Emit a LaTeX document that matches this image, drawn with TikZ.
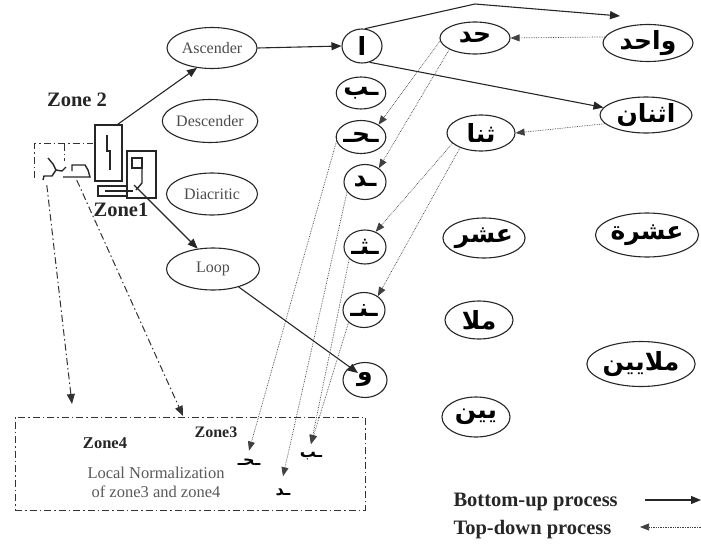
\documentclass[tikz,border=0pt]{standalone}
\usepackage{fontspec}
\setmainfont{Liberation Serif}
\newfontfamily\arab[Script=Arabic]{DejaVu Sans}
\TeXXeTstate=1
\usetikzlibrary{shapes.geometric,arrows.meta}
\newcommand{\arw}[1]{\raisebox{-4pt}{\beginR #1\endR}}

\tikzset{
  part/.style={ellipse,draw=black!85,line width=1.1pt,inner sep=0pt,text=black!70,font=\fontsize{16}{16}\selectfont},
  glyph/.style={ellipse,draw=black!85,line width=1.1pt,inner sep=0pt,font=\arab\bfseries\fontsize{25}{25}\selectfont},
  bglyph/.style={inner sep=0pt,font=\arab\bfseries\fontsize{16}{16}\selectfont},
  bup/.style={-{Triangle[length=10pt,width=8pt]},line width=1.1pt,black!85},
  tdown/.style={-{Triangle[length=9pt,width=7pt]},densely dotted,line width=0.7pt,black!75},
  zdash/.style={line width=1pt,dash pattern=on 7pt off 3pt on 1.5pt off 3pt,black!80},
  pix/.style={line width=1.4pt,black!85},
  zlab/.style={font=\bfseries\fontsize{20.5}{20.5}\selectfont,text=black!85}
}

\begin{document}
\begin{tikzpicture}[x=1pt,y=-1pt]
    \useasboundingbox (0,0) rectangle (701,546);
    % the word image, cut in zones
    \node[draw,pix,minimum width=27pt,minimum height=56pt,inner sep=0pt] (zasc) at (108.5,153) {};
    \node[draw,pix,minimum width=29pt,minimum height=47pt,inner sep=0pt] (zloop) at (141.5,174.5) {};
    \node[minimum width=58pt,minimum height=34pt,inner sep=0pt] (z2box) at (64,161) {};
    \draw[pix] (107,135) -- (107,151) -- (110,151) -- (110,170);
    \draw[pix] (127,186) -- (98,186) -- (98,196) -- (127,196);
    \draw[pix] (105,191) -- (133,191);
    \draw[pix] (132,158) rectangle (142,168);
    \draw[pix] (142,168) -- (142,183) -- (136,190);
    \draw[pix] (48,158) -- (53,164) -- (56,170);
    \draw[pix] (43,180) -- (44,176) -- (52,176) -- (56,170) -- (62,171) -- (66,167);
    \draw[pix] (63,177) -- (90,177) -- (88,170) -- (85,165) -- (72,165) -- (72,171);
    \draw[zdash] (z2box.south west) -- (z2box.north west) -- (z2box.north east);
    \draw[zdash] ([xshift=30pt]z2box.north west) -- ++(0,17);
    \node[zlab] (z2) at (77,100) {Zone 2};
    \node[zlab] (z1) at (121,210) {Zone1};
    % primitives
    \node[part,minimum width=90pt,minimum height=41pt] (asc)  at (212,48)  {Ascender};
    \node[part,minimum width=91pt,minimum height=43pt] (desc) at (210,121) {Descender};
    \node[part,minimum width=91pt,minimum height=42pt] (diac) at (212,194) {Diacritic};
    \node[part,minimum width=93pt,minimum height=42pt] (loop) at (213,269) {Loop};
    % letters
    \node[glyph,minimum width=40pt,minimum height=34pt] (alef) at (362,46)  {\arw{ا}};
    \node[glyph,minimum width=38pt,minimum height=32pt] (ba)   at (361,93)  {\arw{ـب}};
    \node[glyph,minimum width=38pt,minimum height=33pt] (ha)   at (361,137) {\arw{ـحـ}};
    \node[glyph,minimum width=42pt,minimum height=35pt] (dal)  at (365,182) {\arw{ـد}};
    \node[glyph,minimum width=42pt,minimum height=34pt] (tha)  at (365,247) {\arw{ـثـ}};
    \node[glyph,minimum width=42pt,minimum height=35pt] (nun)  at (364,310) {\arw{ـنـ}};
    \node[glyph,minimum width=44pt,minimum height=35pt] (waw)  at (365,380) {\arw{و}};
    % words
    \node[glyph,minimum width=70pt,minimum height=32pt] (had)     at (475,38)  {\arw{حد}};
    \node[glyph,minimum width=90pt,minimum height=37pt] (wahid)   at (648,43)  {\arw{واحد}};
    \node[glyph,minimum width=92pt,minimum height=36pt] (ithnan)  at (646,115) {\arw{اثنان}};
    \node[glyph,minimum width=68pt,minimum height=36pt] (thana)   at (481,133) {\arw{ثنا}};
    \node[glyph,minimum width=68pt,minimum height=40pt] (ashr)    at (484,238) {\arw{عشر}};
    \node[glyph,minimum width=89pt,minimum height=44pt] (ashra)   at (647,235) {\arw{عشرة}};
    \node[glyph,minimum width=68pt,minimum height=38pt] (mala)    at (479,320) {\arw{ملا}};
    \node[glyph,minimum width=87pt,minimum height=45pt] (malayin) at (641,364) {\arw{ملايين}};
    \node[glyph,minimum width=68pt,minimum height=40pt] (yin)     at (476,417) {\arw{يين}};
    % normalization box
    \node[draw,zdash,minimum width=350pt,minimum height=93pt] (zbox) at (190,463.5) {};
    \node[font=\bfseries\fontsize{16.5}{16.5}\selectfont,text=black!85] (z4) at (105,443) {Zone4};
    \node[font=\bfseries\fontsize{16}{16}\selectfont,text=black!85] (z3) at (216,432) {Zone3};
    \node[align=center,text=black!65,font=\fontsize{16.5}{19}\selectfont] (norm) at (156,482.5) {Local Normalization\\of zone3 and zone4};
    \node[bglyph] (bha)  at (249,462) {\arw{ـحـ}};
    \node[bglyph] (bdal) at (283,492) {\arw{ـد}};
    \node[bglyph] (bba)  at (311,456) {\arw{ـب}};
    \coordinate (kink) at (475,4);
    \coordinate (wtop) at (620,16);
    \coordinate (wtail) at (134,185);
    \coordinate (t4) at (72,404);
    \coordinate (t3) at (183,416);
    % bottom-up
    \draw[bup] ([xshift=-5pt]zasc.north east) -- (asc.233);
    \draw[bup] (asc.east) -- (alef.west);
    \draw[bup] (alef.80) -- (kink) -- (wtop);
    \draw[bup] (alef.-65) -- (ithnan.170);
    \draw[bup] (wtail) -- (loop.127);
    \draw[bup] (loop.-35) -- ([shift={(-7pt,7pt)}]waw.center);
    % top-down
    \draw[tdown] (wahid.172) -- (had.east);
    \draw[tdown] (ithnan.192) -- (thana.east);
    \draw[tdown] (had.185) -- (ha.35);
    \draw[tdown] (had.204) -- (dal.45);
    \draw[tdown] (thana.200) -- (tha.55);
    \draw[tdown] (thana.215) -- (nun.45);
    \draw[tdown] (ha.190) -- ([yshift=8pt]bha.north);
    \draw[tdown] (dal.209) -- ([yshift=12pt]bdal.north);
    \draw[tdown] (tha.217) -- ([yshift=8pt]bba.north);
    \draw[tdown] (nun.219) -- ([yshift=8pt]bba.north);
    % zones down to the box
    \draw[zdash,-{Triangle[length=10pt,width=8pt]}] ([xshift=12pt,yshift=-7pt]z2box.south west) -- (t4);
    \draw[zdash,-{Triangle[length=10pt,width=8pt]}] ([xshift=42pt,yshift=-2pt]z2box.south west) -- (t3);
    % legend
    \node[zlab,anchor=west] (bu) at (450,502) {Bottom-up process};
    \node[zlab,anchor=west] (td) at (450,530) {Top-down process};
    \coordinate (bu1) at (645,500);
    \coordinate (bu2) at (701,500);
    \coordinate (td1) at (701,527);
    \coordinate (td2) at (640,527);
    \draw[bup] (bu1) -- (bu2);
    \draw[tdown] (td1) -- (td2);
\end{tikzpicture}
\end{document}
